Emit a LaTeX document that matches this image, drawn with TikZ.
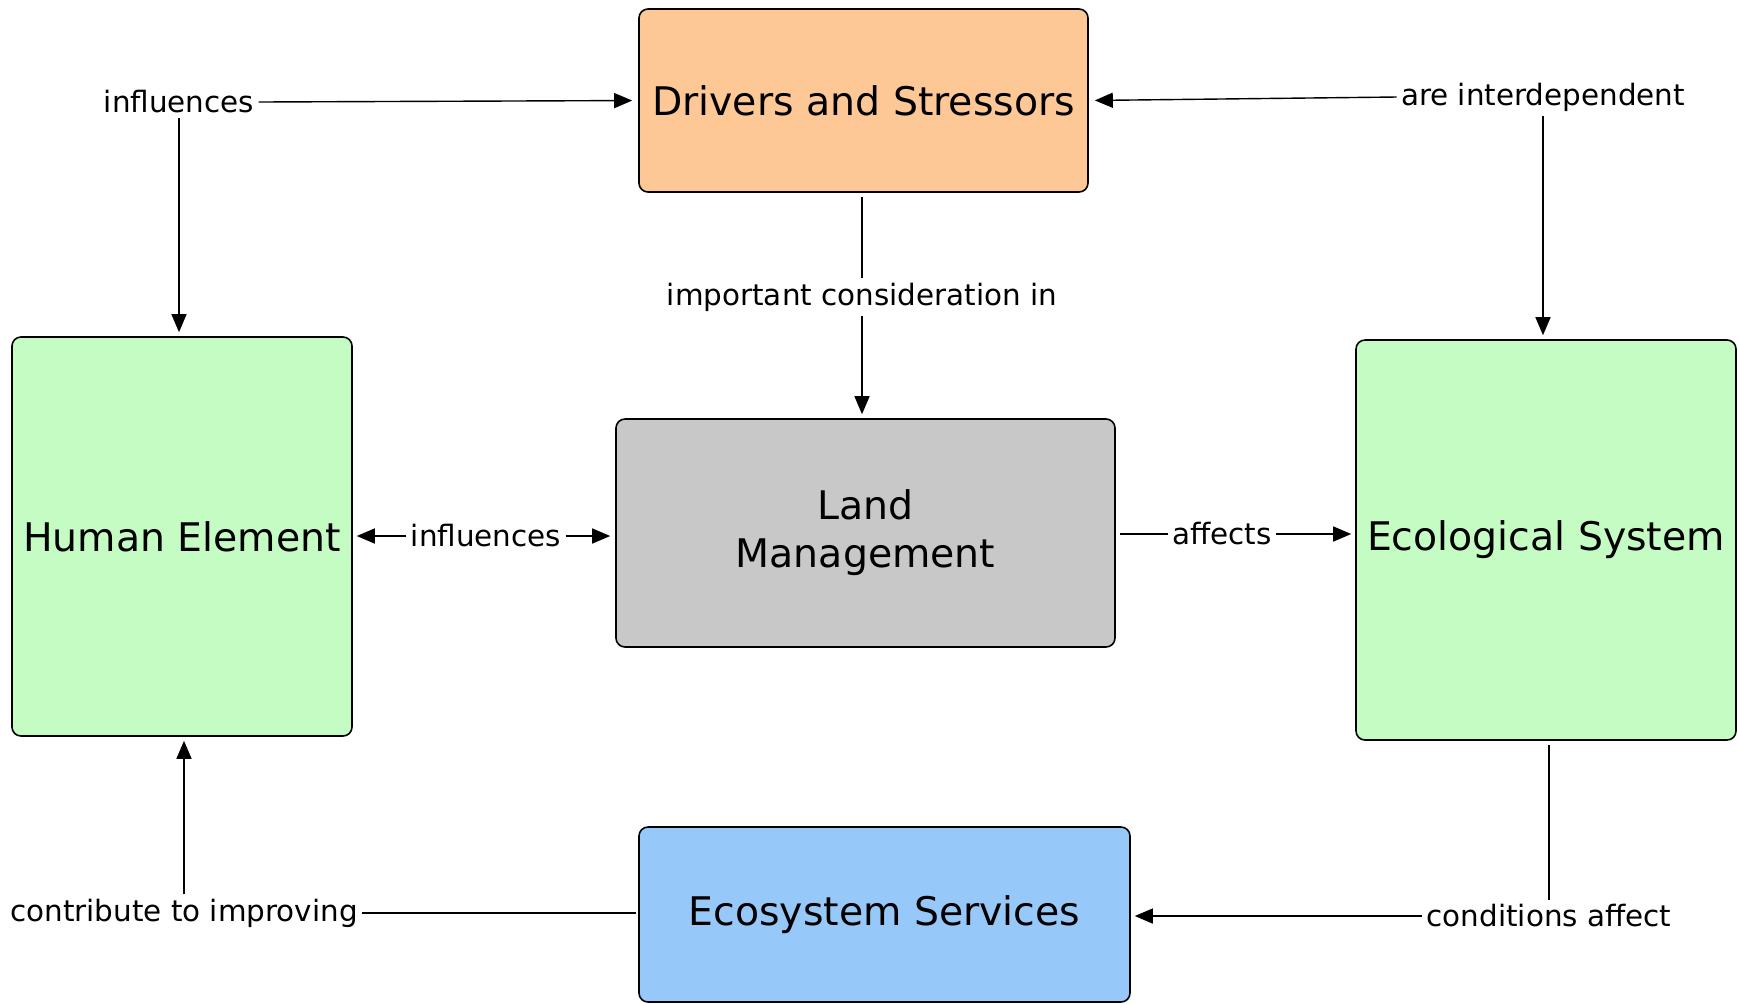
\documentclass[tikz,border=0pt]{standalone}
\usepackage{fontspec}
\setmainfont{DejaVu Sans}
\usetikzlibrary{arrows.meta}
\definecolor{orangebox}{RGB}{254,200,150}
\definecolor{greenbox}{RGB}{196,252,196}
\definecolor{graybox}{RGB}{200,200,200}
\definecolor{bluebox}{RGB}{150,200,250}
\tikzset{
  conceptbox/.style={draw=black, line width=0.8pt, rounded corners=4.5pt, align=center,
    font=\fontsize{19.7}{24}\selectfont, inner sep=0pt},
  linklabel/.style={font=\fontsize{14.7}{17}\selectfont, inner sep=2pt},
  conn/.style={line width=0.7pt, black},
  arr/.style={conn, -{Triangle[length=9pt,width=7.5pt]}},
}
\begin{document}
\begin{tikzpicture}[x=0.5pt,y=-0.5pt]
\useasboundingbox (0,0) rectangle (1739,1003);
% boxes
\node[conceptbox, fill=orangebox, minimum width=224.5pt, minimum height=91.5pt] (drv) at (863.5,100.5) {Drivers and Stressors};
\node[conceptbox, fill=greenbox, minimum width=170pt, minimum height=199.5pt] (hum) at (182,536.5) {Human Element};
\node[conceptbox, fill=graybox, minimum width=249.5pt, minimum height=114pt] (land) at (865.5,533) {Land\\Management};
\node[conceptbox, fill=greenbox, minimum width=190pt, minimum height=200pt] (eco) at (1546,540) {Ecological System};
\node[conceptbox, fill=bluebox, minimum width=245.5pt, minimum height=87.5pt] (ess) at (884.5,914.5) {Ecosystem Services};
% labels
\node[linklabel] (l1) at (179,102) {influences};
\node[linklabel] (l2) at (1543,97) {are interdependent};
\node[linklabel] (l3) at (862,297) {important consideration in};
\node[linklabel] (l4) at (486,536) {influences};
\node[linklabel] (l5) at (1222,534) {affects};
\node[linklabel] (l6) at (1549,916) {conditions affect};
\node[linklabel] (l7) at (184,913) {contribute to improving};
% connectors
\draw[arr, shorten >=3pt] (l1.east) -- (drv.west);
\draw[arr, shorten >=2pt] (l1.south) -- (l1.south |- hum.north);
\draw[arr, shorten >=3pt] (l2.west) -- (drv.east);
\draw[arr, shorten >=2pt] (l2.south) -- (l2.south |- eco.north);
\draw[conn, shorten <=2pt] (drv.south -| l3.north) -- (l3.north);
\draw[arr, shorten >=2pt] (l3.south) -- (l3.south |- land.north);
\draw[arr, shorten >=2pt] (l4.west) -- (hum.east |- l4.west);
\draw[arr, shorten >=2.5pt] (l4.east) -- (land.west |- l4.east);
\draw[conn, shorten <=2pt] (land.east |- l5.west) -- (l5.west);
\draw[arr, shorten >=2pt] (l5.east) -- (eco.west |- l5.east);
\draw[conn, shorten <=2pt] (eco.south -| l6.north) -- (l6.north);
\draw[arr, shorten >=2pt] (l6.west) -- (ess.east |- l6.west);
\draw[conn, shorten <=1pt] (ess.west |- l7.east) -- (l7.east);
\draw[arr, shorten >=2pt] (l7.north) -- (l7.north |- hum.south);
\end{tikzpicture}
\end{document}
